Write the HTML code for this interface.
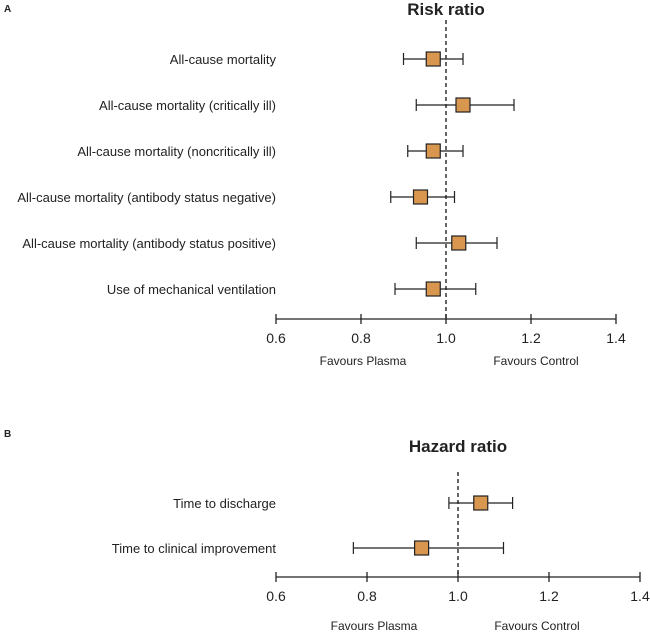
<!DOCTYPE html>
<html><head><meta charset="utf-8"><style>
body{margin:0;background:#fff;}
svg{display:block;font-family:"Liberation Sans",sans-serif;}
</style></head><body>
<svg id="c" width="650" height="632" viewBox="0 0 650 632"></svg>
<script>
const labelsA=["All-cause mortality","All-cause mortality (critically ill)","All-cause mortality (noncritically ill)","All-cause mortality (antibody status negative)","All-cause mortality (antibody status positive)","Use of mechanical ventilation"];
const estA=[0.97,1.04,0.97,0.94,1.03,0.97];
const lowA=[0.90,0.93,0.91,0.87,0.93,0.88];
const highA=[1.04,1.16,1.04,1.02,1.12,1.07];
const labelsB=["Time to discharge","Time to clinical improvement"];
const estB=[1.05,0.92];
const lowB=[0.98,0.77];
const highB=[1.12,1.10];
const ticks=[0.6,0.8,1.0,1.2,1.4];
const tickLabels=["0.6","0.8","1.0","1.2","1.4"];
const NS="http://www.w3.org/2000/svg";
const svg=document.getElementById('c');
function mk(tag,attrs,parent){const e=document.createElementNS(NS,tag);for(const k in attrs)e.setAttribute(k,attrs[k]);(parent||svg).appendChild(e);return e;}
function txt(s,x,y,attrs,parent){const e=mk('text',Object.assign({x:x,y:y,fill:'#222','font-size':13},attrs),parent);e.textContent=s;return e;}
function panel(p){
  const g=mk('g',{});
  
  
  const sx=v=>p.x0+(v-0.6)/(0.8)*(p.x1-p.x0);
  const pl=txt(p.letter,4,p.letterY,{'font-weight':'bold','font-size':10},g);
  
  const t=txt(p.title,sx(1.0),p.titleY,{'font-weight':'bold','font-size':17,'text-anchor':'middle'},g);
  
  const ref=mk('line',{x1:sx(1),x2:sx(1),y1:p.refTop,y2:p.axisY,stroke:'#333','stroke-width':1.5,'stroke-dasharray':'4,3'},g);
  
  const ax=mk('line',{x1:p.x0,x2:p.x1,y1:p.axisY,y2:p.axisY,stroke:'#222','stroke-width':1.3},g);
  
  ticks.forEach((v,i)=>{
    const tk=mk('line',{x1:sx(v),x2:sx(v),y1:p.axisY-5,y2:p.axisY+5,stroke:'#222','stroke-width':1.3},g);
    
    const tl=txt(tickLabels[i],sx(v),p.axisY+24,{'font-size':14,'text-anchor':'middle'},g);
    
  });
  const f1=txt("Favours Plasma",p.fav1,p.favY,{'font-size':12,'text-anchor':'middle'},g);
  
  const f2=txt("Favours Control",p.fav2,p.favY,{'font-size':12,'text-anchor':'middle'},g);
  
  p.labels.forEach((lab,i)=>{
    const y=p.rowY0+i*p.rowStep;
    const l=txt(lab,p.labelX,y+5,{'font-size':13,'text-anchor':'end'},g);
    
    const ci=mk('line',{x1:sx(p.low[i]),x2:sx(p.high[i]),y1:y,y2:y,stroke:'#222','stroke-width':1.2},g);
    
    [p.low[i],p.high[i]].forEach(v=>{
      const cap=mk('line',{x1:sx(v),x2:sx(v),y1:y-6,y2:y+6,stroke:'#222','stroke-width':1.2},g);
      
    });
    const b=mk('rect',{x:sx(p.est[i])-7,y:y-7,width:14,height:14,fill:'#d9964f',stroke:'#222','stroke-width':1.2},g);
    
  });
}
panel({name:'panel-a-risk-ratio',letter:'A',letterY:12,title:'Risk ratio',titleY:15,x0:276,x1:616,axisY:319,refTop:20,labels:labelsA,est:estA,low:lowA,high:highA,rowY0:59,rowStep:46,labelX:276,fav1:363,fav2:536,favY:365});
panel({name:'panel-b-hazard-ratio',letter:'B',letterY:437,title:'Hazard ratio',titleY:452,x0:276,x1:640,axisY:577,refTop:472,labels:labelsB,est:estB,low:lowB,high:highB,rowY0:503,rowStep:45,labelX:276,fav1:374,fav2:537,favY:630});
</script>
</body></html>
